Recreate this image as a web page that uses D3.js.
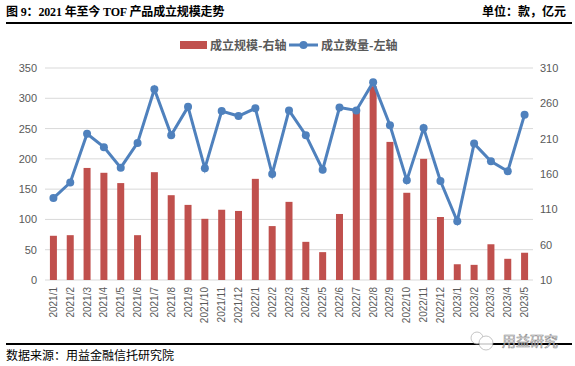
<!DOCTYPE html>
<html>
<head>
<meta charset="utf-8">
<script src="https://cdn.jsdelivr.net/npm/d3@7"></script>
<style>
  body { margin: 0; background: #fff; }
  svg { display: block; }
  text { font-family: "Noto Sans CJK SC", sans-serif; }
  .title { font-family: "Liberation Serif", "Noto Sans CJK SC", serif; letter-spacing: -0.15px; }
  .tick-label { font-family: "Liberation Sans", sans-serif; fill: #595959; }
</style>
</head>
<body>
<svg id="chart"></svg>
<script>
const months = ['2021/1','2021/2','2021/3','2021/4','2021/5','2021/6','2021/7','2021/8','2021/9','2021/10','2021/11','2021/12',
  '2022/1','2022/2','2022/3','2022/4','2022/5','2022/6','2022/7','2022/8','2022/9','2022/10','2022/11','2022/12',
  '2023/1','2023/2','2023/3','2023/4','2023/5'];
const scaleValues = [73,74,185,177,160,74,178,140,124,101,116,114,167,89,129,63,46,109,282,320,228,144,200,104,26,25,59,35,45];
const countValues = [126,148,217,198,169,204,280,215,255,168,249,242,253,160,250,215,166,254,250,290,229,151,225,150,93,203,178,164,244];
const leftTicks = [0,50,100,150,200,250,300,350];
const rightTicks = [10,60,110,160,210,260,310];

const width = 575, height = 366;
const margin = { top: 68, bottom: 86, right: 42, left: 45 };

const svg = d3.select('#chart').attr('width', width).attr('height', height);

const xScale = d3.scaleBand().domain(months).range([margin.left, width - margin.right]);
const yLeft = d3.scaleLinear().domain([0, 350]).range([height - margin.bottom, margin.top]);
const yRight = d3.scaleLinear().domain([10, 310]).range([height - margin.bottom, margin.top]);

// header and footer
svg.append('text').attr('class', 'title').attr('x', 6).attr('y', 16)
  .attr('font-size', 12).attr('font-weight', 700).attr('fill', '#000')
  .text('图 9：2021 年至今 TOF 产品成立规模走势');
svg.append('text').attr('x', 566).attr('y', 16).attr('text-anchor', 'end')
  .attr('font-size', 12).attr('font-weight', 700).attr('fill', '#000')
  .text('单位：款，亿元');
svg.append('line').attr('x1', 6).attr('x2', 572).attr('y1', 23).attr('y2', 23)
  .attr('stroke', '#000').attr('stroke-width', 2);
svg.append('line').attr('x1', 6).attr('x2', 572).attr('y1', 344).attr('y2', 344)
  .attr('stroke', '#000').attr('stroke-width', 2);
svg.append('text').attr('x', 6).attr('y', 360)
  .attr('font-size', 12).attr('fill', '#000')
  .text('数据来源：用益金融信托研究院');

// grid
svg.append('g').selectAll('line').data(leftTicks).join('line')
  .attr('x1', margin.left).attr('x2', width - margin.right)
  .attr('y1', d => yLeft(d)).attr('y2', d => yLeft(d))
  .attr('stroke', '#d9d9d9').attr('stroke-width', 1);

// axes
const leftAxis = svg.append('g').attr('transform', `translate(${margin.left},0)`)
  .call(d3.axisLeft(yLeft).tickValues(leftTicks).tickSize(0).tickPadding(8));
const rightAxis = svg.append('g').attr('transform', `translate(${width - margin.right},0)`)
  .call(d3.axisRight(yRight).tickValues(rightTicks).tickSize(0).tickPadding(7));
[leftAxis, rightAxis].forEach(a => {
  a.select('.domain').remove();
  a.selectAll('text').attr('class', 'tick-label').attr('font-size', 11);
});

const bottomAxis = svg.append('g').attr('transform', `translate(0,${height - margin.bottom})`)
  .call(d3.axisBottom(xScale).tickSize(0));
bottomAxis.select('.domain').remove();
bottomAxis.selectAll('text')
  .attr('class', 'tick-label')
  .attr('font-size', 10)
  .attr('text-anchor', 'end')
  .attr('transform', 'rotate(-90)')
  .attr('x', -7).attr('y', 0).attr('dy', '0.35em');

// bars
const barWidth = 7;
svg.append('g').selectAll('rect').data(months).join('rect')
  .attr('x', d => xScale(d) + xScale.bandwidth() / 2 - barWidth / 2)
  .attr('width', barWidth)
  .attr('y', (d, i) => yLeft(scaleValues[i]))
  .attr('height', (d, i) => yLeft(0) - yLeft(scaleValues[i]))
  .attr('fill', '#c0504d');

// line
const line = d3.line()
  .x(d => xScale(d) + xScale.bandwidth() / 2)
  .y((d, i) => yRight(countValues[i]));
svg.append('path').datum(months)
  .attr('d', line).attr('fill', 'none')
  .attr('stroke', '#4f81bd').attr('stroke-width', 3);
svg.append('g').selectAll('circle').data(months).join('circle')
  .attr('cx', d => xScale(d) + xScale.bandwidth() / 2)
  .attr('cy', (d, i) => yRight(countValues[i]))
  .attr('r', 4)
  .attr('fill', '#4f81bd');

// legend
const legend = svg.append('g').attr('fill', '#595959').attr('font-size', 12).attr('font-weight', 700);
legend.append('rect').attr('x', 180).attr('y', 41).attr('width', 27).attr('height', 8).attr('fill', '#c0504d');
legend.append('text').attr('x', 210).attr('y', 50).text('成立规模-右轴');
legend.append('line').attr('x1', 289).attr('x2', 318).attr('y1', 45).attr('y2', 45)
  .attr('stroke', '#4f81bd').attr('stroke-width', 3);
legend.append('circle').attr('cx', 303.5).attr('cy', 45).attr('r', 4).attr('fill', '#4f81bd');
legend.append('text').attr('x', 321).attr('y', 50).text('成立数量-左轴');

// watermark
const mark = svg.append('g').attr('opacity', 0.85);
mark.append('circle').attr('cx', 477).attr('cy', 338).attr('r', 6)
  .attr('fill', '#fff').attr('stroke', '#aaa').attr('stroke-width', 0.8);
mark.append('circle').attr('cx', 486).attr('cy', 343).attr('r', 7)
  .attr('fill', '#fff').attr('stroke', '#aaa').attr('stroke-width', 0.8);
mark.append('text').attr('x', 502).attr('y', 346)
  .attr('font-size', 14).attr('fill', '#fff').attr('stroke', '#777').attr('stroke-width', 0.6)
  .text('用益研究');
</script>
</body>
</html>
